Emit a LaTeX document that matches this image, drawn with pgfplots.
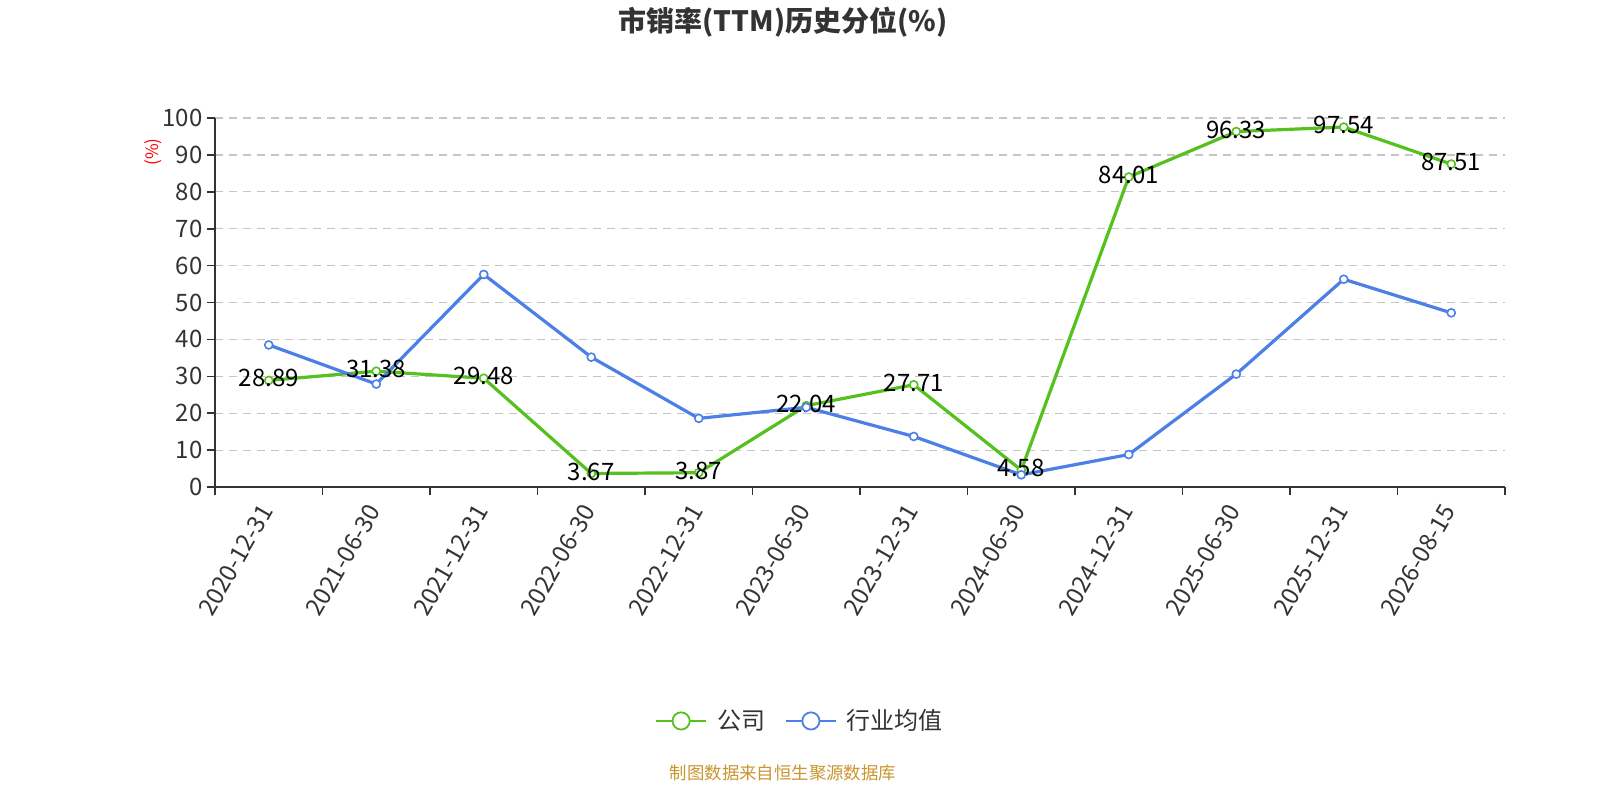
\documentclass[border=0pt]{standalone}
\usepackage{pgfplots}
\pgfplotsset{compat=1.18}
\usepackage{fontspec}
\setmainfont{Noto Sans CJK SC}
\definecolor{cgreen}{HTML}{55C11E}
\definecolor{cblue}{HTML}{4D80E6}
\definecolor{ctext}{HTML}{333333}
\definecolor{cfoot}{HTML}{C9962F}
\begin{document}
\begin{tikzpicture}[x=1pt,y=1pt]
\fill[white] (0,0) rectangle (800,400);
\begin{axis}[
  at={(107.5pt,156.5pt)}, anchor=south west,
  scale only axis, width=645pt, height=184.5pt,
  xmin=-0.5, xmax=11.5, ymin=0, ymax=100,
  axis lines=left, axis line style={-, ctext, line width=0.8pt},
  xtick={0,...,11},
  xticklabels={2020-12-31,2021-06-30,2021-12-31,2022-06-30,2022-12-31,2023-06-30,2023-12-31,2024-06-30,2024-12-31,2025-06-30,2025-12-31,2026-08-15},
  major x tick style={draw=none},
  minor xtick={-0.5,0.5,...,11.5},
  minor tick length=4pt,
  minor x tick style={ctext, line width=0.8pt},
  ytick={0,10,...,100},
  major tick length=4pt,
  y tick style={ctext, line width=0.8pt},
  tick align=outside,
  ymajorgrids, grid style={dashed, gray!45, line width=0.6pt, dash pattern=on 4pt off 3pt},
  xticklabel style={yshift=-4pt, rotate=60, anchor=east, font=\fontsize{12}{14}\selectfont, text=ctext, inner sep=2pt},
  yticklabel style={font=\fontsize{12}{14}\selectfont, text=ctext, inner sep=2pt},
  /pgf/number format/assume math mode=true,
  legend style={at={(0.4535,-0.634)}, anchor=center, draw=none, fill=none,
    legend columns=2, font=\fontsize{12}{14}\selectfont, text=ctext,
    nodes={inner sep=1pt},
    /tikz/every odd column/.append style={column sep=4pt},
    /tikz/every even column/.append style={column sep=9pt}},
  clip=false,
]
\addplot[cgreen, line width=1.6pt, mark=*, mark size=2pt,
  mark options={fill=white, draw=cgreen, line width=0.8pt},
  nodes near coords, point meta=explicit symbolic,
  every node near coord/.style={anchor=center, font=\fontsize{12}{14}\selectfont, text=black, yshift=1pt},
  legend image code/.code={\draw[cgreen, line width=0.9pt] (0pt,0pt) -- (25pt,0pt); \draw[cgreen, line width=0.9pt, fill=white] (12.5pt,0pt) circle (4.3pt);}]
  table[meta=lab] {
x y lab
0 28.89 28.89
1 31.38 31.38
2 29.48 29.48
3 3.67 3.67
4 3.87 3.87
5 22.04 22.04
6 27.71 27.71
7 4.58 4.58
8 84.01 84.01
9 96.33 96.33
10 97.54 97.54
11 87.51 87.51
};
\addlegendentry{公司}
\addplot[cblue, line width=1.6pt, mark=*, mark size=2pt,
  mark options={fill=white, draw=cblue, line width=0.8pt},
  legend image code/.code={\draw[cblue, line width=0.9pt] (0pt,0pt) -- (25pt,0pt); \draw[cblue, line width=0.9pt, fill=white] (12.5pt,0pt) circle (4.3pt);}]
  table {
x y
0 38.5
1 27.9
2 57.6
3 35.2
4 18.6
5 21.6
6 13.7
7 3.3
8 8.8
9 30.6
10 56.3
11 47.2
};
\addlegendentry{行业均值}
\end{axis}
\node[rotate=90, text=red, font=\fontsize{8.5}{10}\selectfont] at (76.5,324) {(\%)};
\node[text=ctext, font=\fontsize{14}{16}\selectfont\bfseries] at (391.5,389) {市销率(TTM)历史分位(\%)};
\node[text=cfoot, font=\fontsize{8.7}{10}\selectfont] at (391.5,13.5) {制图数据来自恒生聚源数据库};
\pgfresetboundingbox
\useasboundingbox (0,0) rectangle (800,400);
\end{tikzpicture}
\end{document}
